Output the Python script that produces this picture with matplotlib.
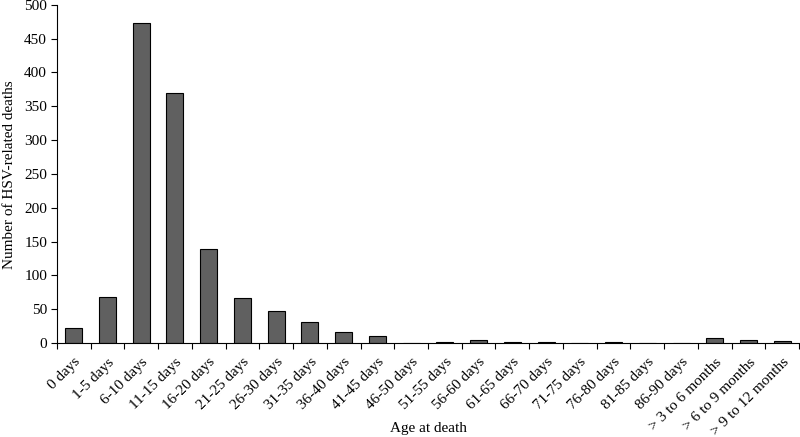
import matplotlib
matplotlib.use("Agg")
import matplotlib.pyplot as plt
import numpy as np

plt.rcParams['font.family'] = ['Liberation Serif', 'DejaVu Serif']

ages = ['0 days', '1-5 days', '6-10 days', '11-15 days', '16-20 days',
        '21-25 days', '26-30 days', '31-35 days', '36-40 days', '41-45 days',
        '46-50 days', '51-55 days', '56-60 days', '61-65 days', '66-70 days',
        '71-75 days', '76-80 days', '81-85 days', '86-90 days',
        '> 3 to 6 months', '> 6 to 9 months', '> 9 to 12 months']
deaths = [22, 68, 473, 370, 139, 66, 48, 31, 17, 10,
          0, 1, 4, 1, 1, 0, 1, 0, 0, 8, 5, 3]

fig = plt.figure(figsize=(8, 4.37), dpi=100)
ax = fig.add_axes([0.071, 0.215, 0.928, 0.774])

x = np.arange(len(ages))
ax.bar(x, deaths, width=0.5, color='#606060', edgecolor='black', linewidth=0.8)

ax.set_xlim(-0.5, len(ages) - 0.5)
ax.set_ylim(0, 500)
ax.set_yticks(np.arange(0, 501, 50))

ax.set_xticks(x)
ax.set_xticklabels(ages, rotation=45, ha='right', rotation_mode='anchor', fontsize=11)
ax.set_xticks(np.arange(-0.5, len(ages)), minor=True)
ax.tick_params(axis='x', which='major', length=0, pad=9)
ax.tick_params(axis='x', which='minor', length=4, direction='out', width=0.8)
ax.tick_params(axis='y', length=4, direction='out', width=0.8, labelsize=11, pad=3)

for s in ['top', 'right']:
    ax.spines[s].set_visible(False)
ax.spines['left'].set_linewidth(0.8)
ax.spines['bottom'].set_linewidth(0.8)

fig.text(0.535, 0.02, 'Age at death', fontsize=11, ha='center', va='center')
fig.text(0.012, 0.6, 'Number of HSV-related deaths', fontsize=11,
         rotation=90, ha='center', va='center')

fig.savefig('out.png', dpi=100)
